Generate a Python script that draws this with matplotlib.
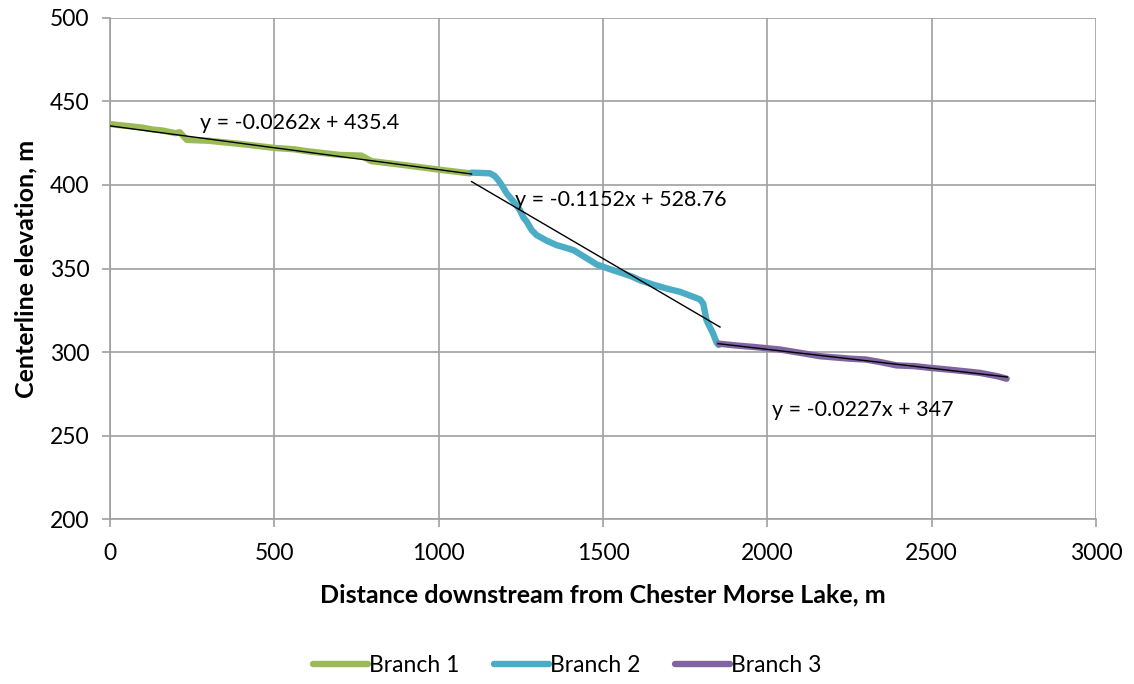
import numpy as np
import matplotlib.pyplot as plt

# centerline profile, distance (m) vs elevation (m)
b1_x = [0, 30, 60, 100, 130, 160, 200, 212, 222, 234, 300, 400, 500, 560, 600, 700, 765, 795, 900, 1000, 1095]
b1_y = [436.5, 435.8, 435.2, 434.3, 433.2, 432.6, 431.0, 431.6, 429.5, 427.0, 426.5, 424.5, 422.2, 421.4, 420.2, 418.0, 417.6, 414.3, 411.8, 409.2, 407.0]

b2_x = [1100, 1130, 1156, 1170, 1181, 1195, 1207, 1228, 1247, 1258, 1268, 1283, 1298, 1330, 1359, 1385, 1410, 1435, 1460,
        1480, 1501, 1530, 1562, 1590, 1612, 1650, 1694, 1735, 1775, 1795, 1805, 1810, 1815, 1825, 1835, 1846, 1852]
b2_y = [407.4, 407.2, 407.0, 405.5, 403.0, 399.0, 395.0, 390.0, 385.0, 380.5, 378.0, 373.0, 370.0, 366.5, 364.0, 362.5, 361.0, 358.0, 355.0,
        352.5, 351.0, 349.0, 347.0, 345.0, 343.0, 340.5, 338.0, 336.0, 333.0, 331.5, 329.0, 324.0, 319.0, 315.0, 311.0, 305.5, 304.2]

b3_x = [1852, 1900, 1960, 2038, 2100, 2160, 2251, 2300, 2343, 2393, 2450, 2495, 2550, 2600, 2647, 2700, 2728]
b3_y = [305.0, 304.0, 303.0, 301.5, 299.5, 297.5, 296.0, 295.5, 294.0, 292.0, 291.5, 290.5, 289.5, 288.5, 287.5, 285.5, 284.0]

branches = ['Branch 1', 'Branch 2', 'Branch 3']
colors = ['#9BBB59', '#4BACC6', '#8064A2']

# linear trendlines: slope, intercept, x range
slopes = [-0.0262, -0.1152, -0.0227]
intercepts = [435.4, 528.76, 347]
fit_ranges = [(0, 1100), (1100, 1856), (1850, 2730)]
label_pos = [(274, 437), (1232, 391), (2014, 265)]

plt.rcParams['font.family'] = ['Lato', 'DejaVu Sans']

fig = plt.figure(figsize=(11.34, 6.84), dpi=100)
ax = fig.add_axes([0.097, 0.2412, 0.8695, 0.7325])

for xs, ys, c, name in zip([b1_x, b2_x, b3_x], [b1_y, b2_y, b3_y], colors, branches):
    ax.plot(xs, ys, color=c, lw=4.6, solid_capstyle='round', solid_joinstyle='round', label=name, zorder=3)

for m, b, (x0, x1), (tx, ty) in zip(slopes, intercepts, fit_ranges, label_pos):
    xx = np.array([x0, x1])
    ax.plot(xx, m * xx + b, color='black', lw=1.0, zorder=4)
    ax.text(tx, ty, f'y = {m}x + {b}', fontsize=15.5, va='center', ha='left', zorder=5)

ax.set_xlim(0, 3000)
ax.set_ylim(200, 500)
ax.set_xticks(np.arange(0, 3001, 500))
ax.set_yticks(np.arange(200, 501, 50))
ax.grid(True, color='#A0A0A0', lw=1.2, zorder=0)
ax.set_axisbelow(True)
for s in ['top', 'right']:
    ax.spines[s].set_visible(False)
for s in ['left', 'bottom']:
    ax.spines[s].set_color('#A0A0A0')
    ax.spines[s].set_linewidth(1.2)
ax.tick_params(direction='out', length=6, width=1.2, color='#A0A0A0', labelsize=16.5, pad=9)
ax.tick_params(axis='x', pad=11)

ax.set_xlabel('Distance downstream from Chester Morse Lake, m', fontsize=18, fontweight='bold', labelpad=14)
ax.set_ylabel('Centerline elevation, m', fontsize=18, fontweight='bold', labelpad=9)

fig.legend(*ax.get_legend_handles_labels(), loc='center', bbox_to_anchor=(0.5, 0.027), ncol=3,
           frameon=False, fontsize=16.5, handlelength=2.4, handletextpad=0.05, columnspacing=1.5)

fig.savefig('out.png', dpi=100)
